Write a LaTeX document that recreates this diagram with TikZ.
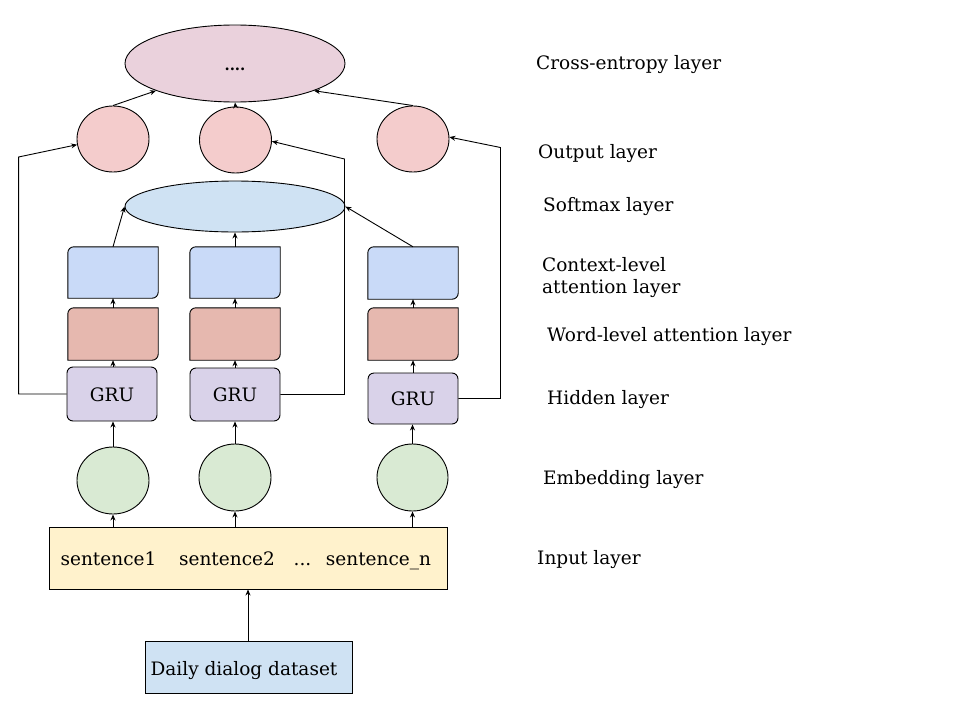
\documentclass[tikz,border=0pt]{standalone}
\usepackage{fontspec}
\setmainfont{DejaVu Serif}
\usetikzlibrary{shapes.geometric,arrows.meta}
\definecolor{cePink}{HTML}{EAD1DC}
\definecolor{outRed}{HTML}{F4CCCC}
\definecolor{smBlue}{HTML}{CFE2F3}
\definecolor{ctxBlue}{HTML}{C9DAF8}
\definecolor{wrdRed}{HTML}{E6B8AF}
\definecolor{gruPurple}{HTML}{D9D2E9}
\definecolor{embGreen}{HTML}{D9EAD3}
\definecolor{inYellow}{HTML}{FFF2CC}
\begin{document}
\begin{tikzpicture}[x=1pt,y=-1pt,
  every node/.style={font=\fontsize{18.5}{22}\selectfont},
  arr/.style={-{Stealth[length=6pt,width=5pt]},line width=0.9pt,black},
  ell/.style={ellipse,draw,line width=0.9pt,inner sep=0pt},
  boxslot/.style={rectangle,inner sep=0pt,minimum width=90pt},
  gru/.style={rectangle,draw,line width=0.9pt,rounded corners=6pt,fill=gruPurple,inner sep=0pt,minimum width=90pt},
  lbl/.style={anchor=base west,inner sep=0pt,align=left},
  txt/.style={anchor=base,inner sep=0pt}
]
\fill[white] (0,0) rectangle (960,720);
\useasboundingbox (0,0) rectangle (960,720);

% cross-entropy ellipse
\node[ell,fill=cePink,minimum width=220pt,minimum height=77pt] (ce) at (235,63.5) {};
\node[txt,font=\fontsize{15}{18}\bfseries] (dots) at (235,70) {....};

% output circles
\node[ell,fill=outRed,minimum width=72pt,minimum height=66pt] (o1) at (113,139) {};
\node[ell,fill=outRed,minimum width=72pt,minimum height=66pt] (o2) at (235.5,140) {};
\node[ell,fill=outRed,minimum width=72pt,minimum height=66pt] (o3) at (413,139) {};

% softmax ellipse
\node[ell,fill=smBlue,minimum width=220pt,minimum height=51pt] (sm) at (235,206.5) {};

% context / word boxes (slots)
\node[boxslot,minimum height=51pt] (c1) at (113,272.5) {};
\node[boxslot,minimum height=51pt] (c2) at (235,272.5) {};
\node[boxslot,minimum height=52pt] (c3) at (413,273) {};
\node[boxslot,minimum height=52pt] (w1) at (113,334) {};
\node[boxslot,minimum height=52pt] (w2) at (235,334) {};
\node[boxslot,minimum height=52pt] (w3) at (413,334) {};

\foreach \b/\c in {c1/ctxBlue,c2/ctxBlue,c3/ctxBlue,w1/wrdRed,w2/wrdRed,w3/wrdRed}{
  \filldraw[fill=\c,line width=0.9pt] (\b.west) [rounded corners=6pt] -- (\b.north west) -- (\b.north)
    [sharp corners] -- (\b.north east) -- (\b.east)
    [rounded corners=6pt] -- (\b.south east) -- (\b.south)
    [sharp corners] -- (\b.south west) -- cycle;
}

% GRU boxes
\node[gru,minimum height=54pt] (g1) at (112,394) {};
\node[gru,minimum height=53pt] (g2) at (235,394.5) {};
\node[gru,minimum height=51pt] (g3) at (413,398.5) {};
\node[txt] (gt1) at (112,401) {GRU};
\node[txt] (gt2) at (235,401) {GRU};
\node[txt] (gt3) at (413,405) {GRU};

% embedding circles
\node[ell,fill=embGreen,minimum width=72pt,minimum height=67pt] (e1) at (113,480.5) {};
\node[ell,fill=embGreen,minimum width=72pt,minimum height=67pt] (e2) at (235,477.5) {};
\node[ell,fill=embGreen,minimum width=71pt,minimum height=67pt] (e3) at (412.5,477.5) {};

% input layer box
\node[rectangle,draw,line width=0.9pt,fill=inYellow,minimum width=398pt,minimum height=62pt,inner sep=0pt] (inp) at (248,558) {};
\node[txt] (s1) at (108.5,565) {sentence1};
\node[txt] (s2) at (227,565) {sentence2};
\node[txt] (s3) at (302.5,565) {...};
\node[txt] (s4) at (378.5,565) {sentence\_n};

% dataset box
\node[rectangle,draw,line width=0.9pt,fill=smBlue,minimum width=207pt,minimum height=52pt,inner sep=0pt] (ds) at (248.5,667) {};
\node[txt] (dst) at (244,675) {Daily dialog dataset};

% arrows bottom-up
\draw[arr] (ds.north -| inp.south) -- (inp.south);
\foreach \e/\g in {e1/g1,e2/g2,e3/g3}{
  \draw[arr] (\e |- inp.north) -- (\e.south);
  \draw[arr] (\e.north) -- (\g.south -| \e.north);
}
\foreach \g/\w/\c in {g1/w1/c1,g2/w2/c2,g3/w3/c3}{
  \draw[arr] (\g.north -| \w.south) -- (\w.south);
  \draw[arr] (\w.north) -- (\c.south);
}
\draw[arr] (c1.north) -- (sm.west);
\draw[arr] (c2.north) -- (sm.south);
\draw[arr] (c3.north) -- (sm.east);

\draw[arr] (o1.north) -- (ce.199);
\draw[arr] (o2.north) -- (ce.south);
\draw[arr] (o3.north) -- (ce.341);

% skip connections
\draw[arr] (g1.west) -- ++(-48,0) -- ++(0,-237) -- (o1.189);
\draw[arr] (g2.east) -- ++(64,0) -- ++(0,-235.5) -- (o2.358);
\draw[arr] (g3.east) -- ++(42,0) -- ++(0,-251) -- (o3.3);

% layer labels
\node[lbl] (l1) at (536,69) {Cross-entropy layer};
\node[lbl] (l2) at (538,158) {Output layer};
\node[lbl] (l3) at (543,211.5) {Softmax layer};
\node[lbl,anchor=west] (l4) at (542,278) {Context-level\\attention layer};
\node[lbl] (l5) at (547,341) {Word-level attention layer};
\node[lbl] (l6) at (547,404) {Hidden layer};
\node[lbl] (l7) at (543,484) {Embedding layer};
\node[lbl] (l8) at (537,564) {Input layer};
\end{tikzpicture}
\end{document}
